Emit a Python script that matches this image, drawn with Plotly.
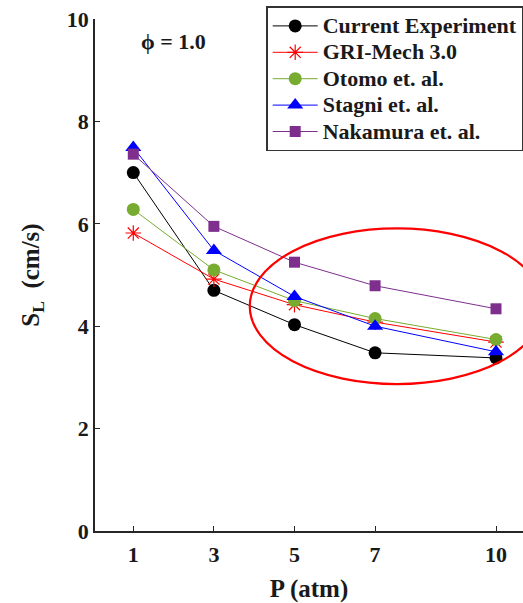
import plotly.graph_objects as go

pressure = [1, 3, 5, 7, 10]
current_exp = [7.00, 4.70, 4.03, 3.48, 3.38]
gri_mech = [5.82, 4.92, 4.42, 4.08, 3.69]
otomo = [6.28, 5.10, 4.50, 4.15, 3.74]
stagni = [7.49, 5.48, 4.58, 4.00, 3.50]
nakamura = [7.36, 5.95, 5.25, 4.79, 4.34]

series_names = ["Current Experiment", "GRI-Mech 3.0", "Otomo et. al.", "Stagni et. al.", "Nakamura et. al."]
x_ticks = [1, 3, 5, 7, 10]
y_ticks = [0, 2, 4, 6, 8, 10]

FONT = "Liberation Serif"
TXT = "#1a1a1a"

styles = [
    dict(color="#000000", symbol="circle", size=13, lw=1),
    dict(color="#ff0000", symbol="asterisk-open", size=13, lw=1),
    dict(color="#77ac30", symbol="circle", size=13, lw=1),
    dict(color="#0000ff", symbol="triangle-up", size=14, lw=1),
    dict(color="#7e2f8e", symbol="square", size=11, lw=1),
]
data = [current_exp, gri_mech, otomo, stagni, nakamura]

fig = go.Figure()
for name, ys, st in zip(series_names, data, styles):
    marker = dict(color=st["color"], symbol=st["symbol"], size=st["size"])
    if st["symbol"] == "asterisk-open":
        marker["line"] = dict(color=st["color"], width=1.2)
    fig.add_trace(go.Scatter(
        x=pressure, y=ys, mode="lines+markers",
        name='<span style="font-size:22px">' + name + '</span>',
        line=dict(color=st["color"], width=st["lw"]),
        marker=marker,
    ))

# red ellipse highlighting high-pressure region
fig.add_shape(type="circle", xref="x", yref="y",
              x0=3.89, x1=11.19, y0=2.87, y1=5.91,
              line=dict(color="#ff0000", width=2.2), layer="above")

fig.add_annotation(x=2.01, y=9.57, xref="x", yref="y", text="<b>ϕ = 1.0</b>",
                   showarrow=False, font=dict(family=FONT, size=22, color=TXT))

fig.update_layout(
    width=523, height=603,
    margin=dict(l=95, r=0, t=19, b=72, autoexpand=False),
    paper_bgcolor="white", plot_bgcolor="white",
    font=dict(family=FONT, color=TXT, size=22, weight="bold"),
    showlegend=True,
    legend=dict(
        x=0.4, y=1.025, xanchor="left", yanchor="top",
        bgcolor="white", bordercolor="#333333", borderwidth=1.5,
        font=dict(family=FONT, size=18, color=TXT, weight="bold"),
        itemwidth=45, tracegroupgap=0,
    ),
    xaxis=dict(
        range=[0.05, 10.67], tickvals=x_ticks, ticktext=[str(v) for v in x_ticks],
        showgrid=False, zeroline=False, showline=True, linecolor="#262626", linewidth=1.5,
        ticks="inside", ticklen=5, tickwidth=1, tickcolor="#262626",
        tickfont=dict(family=FONT, size=22, color=TXT, weight="bold"),
        ticklabelstandoff=3,
        title=dict(text="P (atm)", font=dict(family=FONT, size=25, color=TXT, weight="bold"), standoff=14),
        mirror=False,
    ),
    yaxis=dict(
        range=[0, 10], tickvals=y_ticks,
        showgrid=False, zeroline=False, showline=True, linecolor="#262626", linewidth=1.5,
        ticks="inside", ticklen=5, tickwidth=1, tickcolor="#262626",
        tickfont=dict(family=FONT, size=22, color=TXT, weight="bold"),
        title=dict(text="S<sub>L</sub>  (cm/s)", font=dict(family=FONT, size=25, color=TXT, weight="bold"), standoff=20),
        mirror=False,
    ),
)

fig.write_html("out.html")
